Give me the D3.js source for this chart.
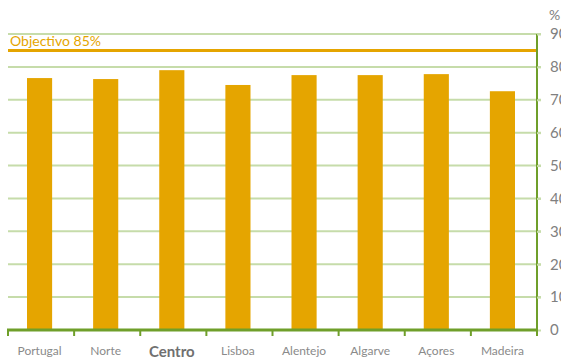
<!DOCTYPE html>
<html><head><meta charset="utf-8">
<script src="https://cdn.jsdelivr.net/npm/d3@7"></script>
<style>body{margin:0;background:#fff}svg{display:block}</style>
</head><body>
<script>
const categories = ["Portugal","Norte","Centro","Lisboa","Alentejo","Algarve","Açores","Madeira"];
const values = [76.6, 76.3, 79.0, 74.5, 77.5, 77.5, 77.8, 72.6];
const yTicks = [0,10,20,30,40,50,60,70,80,90];
const target = 85;
const targetLabel = "Objectivo 85%";
const highlight = "Centro";

const W = 561, H = 361;
const font = "Lato, 'Open Sans', sans-serif";
const svg = d3.select("body").append("svg").attr("width", W).attr("height", H);

const x = d3.scaleBand().domain(categories).range([8, 537]).paddingInner(0.62).paddingOuter(0.31);
const y = d3.scaleLinear().domain([0, 90]).range([330, 34]);

// gridlines
svg.append("g").selectAll("line").data(yTicks.filter(d => d > 0)).join("line")
  .attr("x1", 8).attr("x2", 541).attr("y1", d => y(d)).attr("y2", d => y(d))
  .attr("stroke", "#c6dcaa").attr("stroke-width", 2);

// bars
svg.append("g").selectAll("rect").data(values).join("rect")
  .attr("x", (d, i) => x(categories[i]) - 1.5).attr("width", x.bandwidth())
  .attr("y", d => y(d)).attr("height", d => y(0) - y(d))
  .attr("fill", "#e5a500");

// target line
svg.append("line").attr("x1", 8).attr("x2", 537).attr("y1", y(target)).attr("y2", y(target))
  .attr("stroke", "#e5a500").attr("stroke-width", 3);
svg.append("text").attr("x", 10).attr("y", y(target) - 4).text(targetLabel)
  .attr("font-family", font).attr("font-size", 14).attr("fill", "#e5a500");

// y axis (right)
const yAxis = d3.axisRight(y).tickValues(yTicks).tickSize(4).tickPadding(9);
const gy = svg.append("g").attr("transform", "translate(537,0)").call(yAxis);
gy.select(".domain").attr("stroke", "#6f9f2a").attr("stroke-width", 2).attr("d", `M0,${y(0)}V${y(90)}`);
gy.selectAll(".tick line").attr("stroke", "#c6dcaa").attr("stroke-width", 2);
gy.selectAll(".tick text").attr("font-family", font).attr("font-size", 15).attr("fill", "#808080");
svg.append("text").attr("x", 549).attr("y", 20).text("%")
  .attr("font-family", font).attr("font-size", 14).attr("fill", "#808080");

// x axis
const step = x.step();
const bounds = d3.range(categories.length + 1).map(i => 8 + i * step);
const gx = svg.append("g");
gx.append("line").attr("x1", 7).attr("x2", 538).attr("y1", y(0)).attr("y2", y(0))
  .attr("stroke", "#6f9f2a").attr("stroke-width", 3);
gx.selectAll("line.t").data(bounds).join("line").attr("class", "t")
  .attr("x1", d => d).attr("x2", d => d).attr("y1", y(0)).attr("y2", y(0) + 6)
  .attr("stroke", "#6f9f2a").attr("stroke-width", 2);
gx.selectAll("text").data(categories).join("text")
  .attr("x", d => x(d) + x.bandwidth() / 2 - 1.5)
  .attr("y", d => d === highlight ? 357 : 355)
  .attr("text-anchor", "middle")
  .attr("font-family", font)
  .attr("font-size", d => d === highlight ? 15 : 12)
  .attr("font-weight", d => d === highlight ? "bold" : "normal")
  .attr("fill", d => d === highlight ? "#707070" : "#8a8a8a")
  .text(d => d);
</script>
</body></html>
